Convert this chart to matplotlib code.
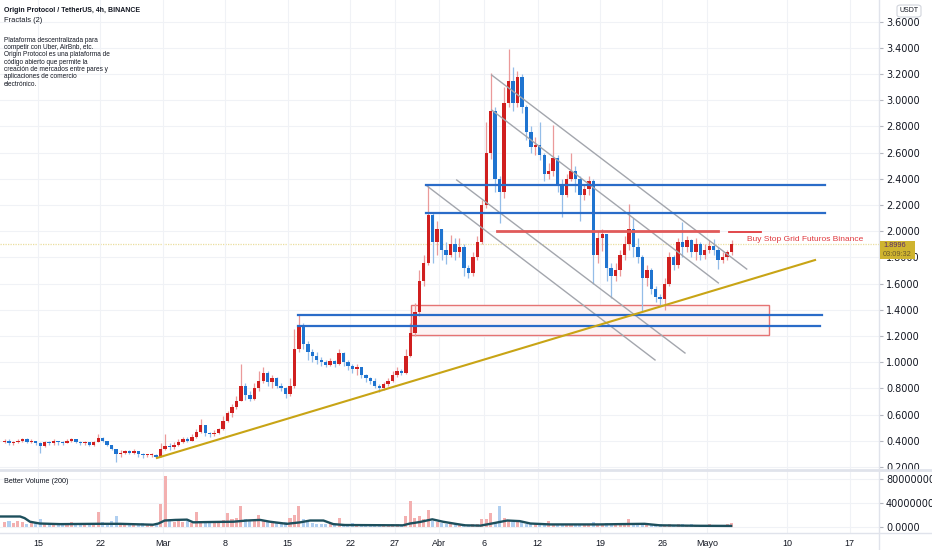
import numpy as np
import matplotlib
matplotlib.use('Agg')
import matplotlib.pyplot as plt
from matplotlib.lines import Line2D
from matplotlib.patches import Rectangle, FancyBboxPatch

# OGN/USDT, 12h candles, day 0 = 15 Feb 2021
closes = [0.40,0.38,0.39,0.40,0.41,0.39,0.40,0.38,0.36,0.39,
          0.38,0.40,0.39,0.38,0.40,0.41,0.39,0.38,0.39,0.37,
          0.39,0.42,0.40,0.37,0.34,0.30,0.31,0.32,0.31,0.32,
          0.30,0.29,0.29,0.29,0.28,0.34,0.36,0.35,0.37,0.39,
          0.41,0.40,0.43,0.47,0.52,0.46,0.45,0.46,0.49,0.55,
          0.61,0.66,0.70,0.82,0.75,0.72,0.80,0.86,0.92,0.85,
          0.88,0.82,0.80,0.76,0.82,1.10,1.28,1.14,1.08,1.05,
          1.02,1.00,0.98,1.01,0.99,1.07,1.00,0.97,0.95,0.96,
          0.90,0.88,0.86,0.82,0.80,0.83,0.86,0.90,0.93,0.92,
          1.05,1.22,1.38,1.62,1.76,2.12,1.92,2.02,1.86,1.82,
          1.90,1.84,1.88,1.72,1.68,1.80,1.92,2.20,2.60,2.92,
          2.40,2.30,2.98,3.15,2.98,3.18,2.95,2.76,2.64,2.66,
          2.58,2.44,2.46,2.56,2.36,2.28,2.40,2.46,2.40,2.28,
          2.32,2.38,1.82,1.95,1.98,1.72,1.66,1.70,1.82,1.90,
          2.02,1.88,1.80,1.64,1.70,1.56,1.50,1.48,1.60,1.80,
          1.74,1.92,1.88,1.93,1.84,1.90,1.82,1.86,1.89,1.86,
          1.78,1.80,1.84,1.90]
highs = [0.41,0.41,0.40,0.41,0.42,0.42,0.41,0.40,0.39,0.40,
         0.40,0.41,0.40,0.40,0.41,0.42,0.41,0.40,0.40,0.39,
         0.40,0.45,0.43,0.40,0.37,0.34,0.33,0.33,0.33,0.34,
         0.32,0.31,0.30,0.31,0.30,0.38,0.45,0.38,0.39,0.41,
         0.43,0.43,0.45,0.49,0.57,0.52,0.47,0.48,0.50,0.59,
         0.63,0.68,0.74,0.99,0.84,0.78,0.84,0.93,0.96,0.93,
         0.90,0.89,0.84,0.81,0.88,1.25,1.36,1.30,1.16,1.10,
         1.08,1.04,1.02,1.03,1.02,1.10,1.08,1.02,0.99,0.99,
         0.96,0.91,0.89,0.88,0.83,0.85,0.88,0.93,0.96,0.95,
         1.10,1.30,1.45,1.70,1.82,2.35,2.14,2.08,2.02,1.92,
         1.97,1.95,1.95,1.90,1.74,1.84,1.96,2.24,2.83,3.21,
         2.95,2.42,3.10,3.39,3.25,3.22,3.20,2.96,2.80,2.72,
         2.83,2.60,2.52,2.81,2.58,2.40,2.44,2.60,2.50,2.42,
         2.36,2.42,2.40,2.00,2.02,1.98,1.76,1.76,1.86,1.96,
         2.21,2.10,1.95,1.82,1.74,1.72,1.58,1.52,1.64,1.84,
         1.82,1.95,2.07,1.96,1.94,1.95,1.92,1.90,1.93,1.94,
         1.88,1.84,1.86,1.93]
lows = [0.38,0.37,0.37,0.38,0.39,0.38,0.38,0.37,0.31,0.35,
        0.37,0.37,0.37,0.37,0.38,0.39,0.38,0.37,0.37,0.36,
        0.36,0.39,0.39,0.36,0.33,0.24,0.28,0.30,0.30,0.30,
        0.28,0.27,0.28,0.28,0.27,0.28,0.33,0.33,0.34,0.36,
        0.38,0.39,0.40,0.42,0.46,0.44,0.43,0.44,0.45,0.48,
        0.54,0.58,0.64,0.70,0.71,0.70,0.71,0.78,0.84,0.82,
        0.80,0.80,0.78,0.73,0.74,0.80,1.08,1.10,1.02,1.00,
        0.99,0.97,0.96,0.97,0.96,0.98,0.97,0.94,0.92,0.90,
        0.88,0.85,0.83,0.80,0.77,0.79,0.82,0.85,0.89,0.90,
        0.91,1.04,1.20,1.35,1.58,1.74,1.76,1.82,1.78,1.75,
        1.80,1.78,1.80,1.66,1.64,1.66,1.78,1.90,2.18,2.55,
        2.30,2.06,2.25,2.95,2.92,2.95,2.90,2.70,2.60,2.58,
        2.54,2.38,2.40,2.42,2.30,2.11,2.26,2.38,2.30,2.08,
        2.24,2.28,1.60,1.76,1.85,1.62,1.49,1.62,1.66,1.78,
        1.86,1.80,1.76,1.38,1.58,1.52,1.46,1.44,1.40,1.58,
        1.70,1.72,1.80,1.84,1.80,1.78,1.78,1.79,1.83,1.82,
        1.71,1.76,1.78,1.82]
first_open = 0.39
volumes_m = [8,10,6,9,7,5,6,8,12,5,
             4,6,5,4,5,7,4,5,6,4,
             5,24,8,6,10,18,5,6,4,5,
             4,6,5,4,6,37,85,12,8,10,
             7,9,6,24,10,8,6,9,7,11,
             22,12,14,35,12,9,10,20,10,8,
             7,6,5,8,14,20,35,12,8,6,
             5,4,5,6,5,14,5,4,6,4,
             5,3,4,3,5,4,3,4,5,3,
             17,43,14,18,12,28,10,8,6,5,
             4,5,3,4,3,4,5,12,12,22,
             8,34,15,10,8,9,7,5,6,4,
             5,4,10,5,4,3,5,4,3,4,
             3,4,8,5,4,6,4,3,5,4,
             13,5,4,3,6,4,3,4,3,4,
             3,5,4,3,4,3,2,3,4,3,
             2,3,4,6]
first_day = -4.0
candle_days = 0.5

# "Better Volume (200)" average line
ma_days = [-4.26,-2.0,-1.5,-0.9,0.2,2.5,6.6,9.2,12.9,13.5,14.2,15.4,16.7,17.4,
           19.3,21.9,23.4,24.9,26.0,27.9,29.4,30.5,32.0,33.1,34.4,40.9,41.7,
           42.8,44.2,45.4,47.0,47.9,49.6,50.7,52.6,54.0,55.2,57.4,63.0,65.2,
           68.0,69.7,74.2,77.7]
ma_vals = [16.7,16.7,14,8,5,4,4.5,4.5,3,5,10,11,11.5,7,
           7.5,8,10,11,8,4.5,7,10,10,4,2.5,2,5,
           7.5,12,8,4,2,1.5,4.5,10,9,5,3.5,3.5,4,
           4.5,2,1.2,1]

# drawings (day, price)
trend_x = [13.34, 87.11]
trend_y = [0.269, 1.780]
blue_levels = [2.353, 2.139, 1.360, 1.280]
blue_start = [43.46, 43.46, 29.15, 29.15]
blue_end = [88.23, 88.23, 87.89, 87.67]
red_level = 2.002
red_span = [51.46, 76.23]
stop_level = 1.994
stop_span = [77.47, 81.05]
zone_x = [41.82, 81.95]
zone_y = [1.211, 1.433]
channel_x = [[50.86, 79.45], [50.86, 76.27], [43.46, 69.17], [46.94, 72.53]]
channel_y = [[3.192, 1.711], [2.925, 1.605], [2.353, 1.017], [2.391, 1.070]]
last_price = 1.8996

tick_days = [0, 7, 14, 21, 28, 35, 40, 45, 50, 56, 63, 70, 75, 84, 91]
tick_names = ['15', '22', 'Mar', '8', '15', '22', '27', 'Abr', '6', '12',
              '19', '26', 'Mayo', '10', '17']
price_ticks = np.round(np.arange(0.2, 3.61, 0.2), 1)

RED, BLUE = '#d01f1f', '#1f74d0'
RED_W, BLUE_W = '#eb9a9a', '#94bde8'
GRID = '#f0f2f6'
TXT = '#131722'
SANS = ['Liberation Sans', 'DejaVu Sans']

fig = plt.figure(figsize=(9.32, 5.5), dpi=100)
ax = fig.add_axes([0, 80/550, 879/932, 470/550])
axv = fig.add_axes([0, 17/550, 879/932, 63/550], sharex=ax)

closes = np.array(closes); highs = np.array(highs); lows = np.array(lows)
opens = np.concatenate([[first_open], closes[:-1]])
days = first_day + candle_days * np.arange(len(closes)) + candle_days / 2
up = closes >= opens

ax.vlines(days[up], lows[up], highs[up], color=RED_W, lw=0.9, zorder=3)
ax.vlines(days[~up], lows[~up], highs[~up], color=BLUE_W, lw=0.9, zorder=3)
body = np.abs(closes - opens)
body = np.where(body < 0.006, 0.006, body)
ax.bar(days[up], body[up], bottom=np.minimum(opens, closes)[up], width=0.38,
       color=RED, lw=0, zorder=4)
ax.bar(days[~up], body[~up], bottom=np.minimum(opens, closes)[~up], width=0.38,
       color=BLUE, lw=0, zorder=4)

# drawings
ax.add_patch(Rectangle((zone_x[0], zone_y[0]), zone_x[1] - zone_x[0], zone_y[1] - zone_y[0],
                       facecolor='#fdf3f3', edgecolor='#e57373', lw=1, zorder=2))
for cx, cy in zip(channel_x, channel_y):
    ax.plot(cx, cy, color='#a3a6ad', lw=1, zorder=5)
for lv, s, e in zip(blue_levels, blue_start, blue_end):
    ax.plot([s, e], [lv, lv], color='#2a6cc8', lw=1.6, zorder=5)
ax.plot(red_span, [red_level, red_level], color='#e05a5a', lw=2, zorder=5)
ax.plot(stop_span, [stop_level, stop_level], color='#e0393e', lw=1.3, zorder=5)
ax.text(79.48, 1.94, 'Buy Stop Grid Futuros Binance', color='#e0393e', fontsize=6.0,
        family=SANS, va='center', ha='left', zorder=6)
ax.plot(trend_x, trend_y, color='#c8a415', lw=1.5, zorder=6)
ax.axhline(last_price, color='#eadf9e', lw=0.9, ls=(0, (1, 1)), zorder=1)

ax.set_xlim(-4.26, 94.28)
ax.set_ylim(0.177, 3.765)
ax.set_yticks(price_ticks)
ax.set_yticklabels([f'{p:.4f}' for p in price_ticks])
ax.yaxis.tick_right()
ax.tick_params(axis='y', length=3, color='#b2b5be', labelsize=7, labelcolor=TXT, pad=2)
ax.set_xticks(tick_days)
ax.tick_params(axis='x', length=0, labelbottom=False)
ax.grid(color=GRID, lw=0.8, zorder=0)
for s in ax.spines.values():
    s.set_visible(False)

# volume pane
vol = np.array(volumes_m)
axv.bar(days[up], vol[up], width=0.34, color='#f3b0b0', lw=0, zorder=2)
axv.bar(days[~up], vol[~up], width=0.34, color='#b0cff0', lw=0, zorder=2)
axv.plot(ma_days, ma_vals, color='#1d4f5c', lw=1.7, zorder=3)
axv.set_ylim(-10.8, 94.2)
axv.set_yticks([0, 40, 80])
axv.set_yticklabels(['0.0000', '40000000.0000', '80000000.0000'])
axv.yaxis.tick_right()
axv.tick_params(axis='y', length=3, color='#b2b5be', labelsize=7, labelcolor=TXT, pad=2)
axv.set_xticks(tick_days)
axv.set_xticklabels(tick_names, family=SANS)
axv.tick_params(axis='x', length=0, labelsize=6.5, labelcolor=TXT, pad=4)
axv.grid(color=GRID, lw=0.8, zorder=0)
for s in axv.spines.values():
    s.set_visible(False)
axv.text(0.005, 0.82, 'Better Volume (200)', transform=axv.transAxes, fontsize=5.2,
         family=SANS, color=TXT, va='center')

# pane separators
def px(x, y):
    return x / 932, 1 - y / 550

fig.add_artist(Line2D([879/932, 879/932], [0, 1], color='#e0e3eb', lw=1))
fig.add_artist(Line2D([0, 1], [1 - 470/550] * 2, color='#e0e3eb', lw=2))
fig.add_artist(Line2D([0, 1], [1 - 533/550] * 2, color='#e0e3eb', lw=1))

# last price label
fig.add_artist(Rectangle(px(880, 259), 35/932, 18/550, facecolor='#cfb42f',
                         edgecolor='none', zorder=5))
fig.text(*px(883, 245.5), f'{last_price:.4f}', fontsize=5.3, family=SANS, color='#5b2d6b',
         va='center', ha='left', zorder=6)
fig.text(*px(883, 254), '03:09:32', fontsize=5.3, family=SANS, color='#6b5a2a',
         va='center', ha='left', zorder=6)

# currency badge
fig.add_artist(FancyBboxPatch(px(897, 17), 24/932, 12/550, boxstyle='round,pad=0,rounding_size=0.004',
                              facecolor='white', edgecolor='#d1d4dc', lw=0.8, zorder=5))
fig.text(*px(909, 11), 'USDT', fontsize=5, family=SANS, color=TXT, ha='center', va='center', zorder=6)

# header
fig.text(*px(4, 10), 'Origin Protocol / TetherUS, 4h, BINANCE', fontsize=5.0,
         weight='bold', family=SANS, color=TXT, va='center')
fig.text(*px(4, 21), 'Fractals (2)', fontsize=5.4, family=SANS, color=TXT, va='center')
desc = ['Plataforma descentralizada para', 'competir con Uber, AirBnb, etc.',
        'Origin Protocol es una plataforma de', 'código abierto que permite la',
        'creación de mercados entre pares y', 'aplicaciones de comercio', 'electrónico.']
for k, line in enumerate(desc):
    fig.text(*px(4, 40 + 7.4 * k), line, fontsize=4.7, family=SANS, color=TXT, va='center')

fig.savefig('out.png', dpi=100)
